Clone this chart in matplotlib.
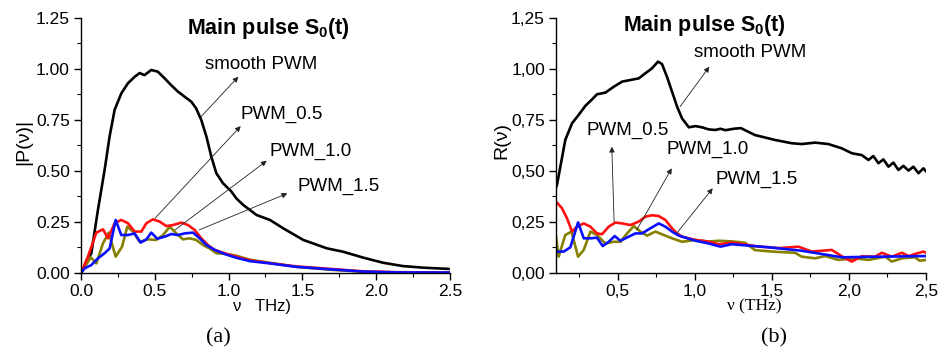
import matplotlib
matplotlib.use("Agg")
import matplotlib.pyplot as plt
from matplotlib.ticker import MultipleLocator, FuncFormatter

# ---------------- data: panel (a) |P(nu)| ----------------
a_black_x = [0, 0.07, 0.115, 0.16, 0.194, 0.228, 0.273, 0.318, 0.364, 0.397, 0.43, 0.476, 0.52,
             0.567, 0.612, 0.657, 0.702, 0.747, 0.78, 0.815, 0.85, 0.883, 0.917, 0.962, 1.018,
             1.052, 1.10, 1.19, 1.28, 1.37, 1.506, 1.665, 1.777, 1.913, 2.048, 2.18, 2.32, 2.49]
a_black_y = [0, 0.097, 0.31, 0.505, 0.67, 0.80, 0.88, 0.93, 0.962, 0.98, 0.97, 0.995, 0.987,
             0.954, 0.92, 0.889, 0.864, 0.84, 0.807, 0.75, 0.668, 0.57, 0.489, 0.44, 0.40,
             0.366, 0.333, 0.284, 0.26, 0.219, 0.162, 0.121, 0.104, 0.075, 0.05, 0.034, 0.026, 0.02]

a_red_x = [0, 0.047, 0.104, 0.149, 0.183, 0.228, 0.273, 0.318, 0.364, 0.409, 0.443, 0.488, 0.533,
           0.578, 0.623, 0.68, 0.725, 0.77, 0.815, 0.86, 0.906, 0.973, 1.05, 1.145, 1.28, 1.46,
           1.69, 1.91, 2.14, 2.5]
a_red_y = [0, 0.08, 0.198, 0.214, 0.17, 0.244, 0.26, 0.244, 0.203, 0.203, 0.244, 0.263, 0.252,
           0.23, 0.235, 0.247, 0.235, 0.211, 0.17, 0.137, 0.113, 0.097, 0.08, 0.062, 0.048, 0.032,
           0.02, 0.008, 0.004, 0.002]

a_blue_x = [0, 0.025, 0.07, 0.115, 0.16, 0.194, 0.235, 0.273, 0.318, 0.364, 0.404, 0.443, 0.476,
            0.517, 0.567, 0.612, 0.657, 0.702, 0.759, 0.804, 0.85, 0.906, 0.973, 1.05, 1.145,
            1.28, 1.46, 1.69, 1.91, 2.14, 2.5]
a_blue_y = [0, 0.023, 0.039, 0.072, 0.097, 0.12, 0.26, 0.186, 0.186, 0.194, 0.149, 0.165, 0.198,
            0.168, 0.178, 0.191, 0.186, 0.194, 0.198, 0.17, 0.137, 0.113, 0.093, 0.075, 0.058,
            0.047, 0.03, 0.018, 0.007, 0.003, 0.002]

a_olive_x = [0, 0.066, 0.104, 0.149, 0.188, 0.235, 0.278, 0.314, 0.352, 0.397, 0.454, 0.51, 0.556,
             0.601, 0.646, 0.691, 0.736, 0.78, 0.827, 0.872, 0.917, 0.984, 1.05, 1.145, 1.28, 1.46,
             1.69, 1.91, 2.14, 2.5]
a_olive_y = [0, 0.077, 0.047, 0.145, 0.198, 0.08, 0.129, 0.227, 0.203, 0.153, 0.165, 0.162, 0.186,
             0.227, 0.194, 0.165, 0.17, 0.162, 0.137, 0.12, 0.097, 0.093, 0.085, 0.065, 0.05, 0.03,
             0.016, 0.006, 0.002, 0.001]

# ---------------- data: panel (b) R(nu) ----------------
b_black_x = [0.1, 0.106, 0.128, 0.16, 0.204, 0.247, 0.29, 0.334, 0.366, 0.42, 0.475, 0.529, 0.583,
             0.637, 0.68, 0.723, 0.762, 0.788, 0.82, 0.853, 0.886, 0.918, 0.962, 1.005, 1.048,
             1.09, 1.134, 1.167, 1.2, 1.254, 1.3, 1.392, 1.522, 1.63, 1.695, 1.782, 1.868, 1.955,
             2.02, 2.085, 2.128, 2.16, 2.193, 2.225, 2.258, 2.29, 2.323, 2.355, 2.388, 2.42, 2.453,
             2.485, 2.5]
b_black_y = [0.42, 0.431, 0.521, 0.652, 0.734, 0.775, 0.819, 0.851, 0.876, 0.884, 0.913, 0.938,
             0.946, 0.954, 0.979, 1.003, 1.036, 1.024, 0.962, 0.889, 0.815, 0.758, 0.714, 0.72,
             0.714, 0.704, 0.701, 0.707, 0.70, 0.707, 0.71, 0.676, 0.652, 0.636, 0.632, 0.639,
             0.632, 0.611, 0.587, 0.578, 0.554, 0.573, 0.538, 0.557, 0.521, 0.541, 0.505, 0.525,
             0.502, 0.521, 0.489, 0.513, 0.50]

b_red_x = [0.1, 0.106, 0.139, 0.171, 0.204, 0.236, 0.28, 0.323, 0.366, 0.399, 0.442, 0.485, 0.529,
           0.583, 0.637, 0.68, 0.723, 0.767, 0.81, 0.853, 0.886, 0.918, 1.005, 1.09, 1.156, 1.24,
           1.41, 1.55, 1.674, 1.76, 1.89, 1.977, 2.02, 2.085, 2.17, 2.215, 2.28, 2.345, 2.39, 2.43,
           2.485, 2.5]
b_red_y = [0.35, 0.345, 0.317, 0.268, 0.203, 0.227, 0.243, 0.227, 0.194, 0.19, 0.227, 0.247, 0.243,
           0.235, 0.252, 0.276, 0.283, 0.279, 0.26, 0.219, 0.194, 0.178, 0.162, 0.154, 0.141,
           0.149, 0.13, 0.122, 0.129, 0.105, 0.113, 0.072, 0.056, 0.082, 0.08, 0.099, 0.08, 0.099,
           0.083, 0.093, 0.105, 0.1]

b_blue_x = [0.1, 0.106, 0.15, 0.193, 0.243, 0.28, 0.323, 0.366, 0.403, 0.442, 0.481, 0.518, 0.572,
            0.615, 0.658, 0.712, 0.767, 0.81, 0.853, 0.897, 1.005, 1.09, 1.167, 1.24, 1.479,
            1.695, 1.955, 2.215, 2.5]
b_blue_y = [0.105, 0.105, 0.105, 0.126, 0.248, 0.17, 0.17, 0.173, 0.132, 0.153, 0.181, 0.158,
            0.178, 0.194, 0.194, 0.219, 0.243, 0.227, 0.203, 0.183, 0.158, 0.145, 0.129, 0.141,
            0.126, 0.109, 0.077, 0.08, 0.083]

b_olive_x = [0.1, 0.117, 0.16, 0.2, 0.243, 0.28, 0.323, 0.366, 0.42, 0.475, 0.518, 0.561, 0.605,
             0.648, 0.691, 0.745, 0.8, 0.853, 0.918, 1.005, 1.09, 1.156, 1.24, 1.327, 1.392,
             1.522, 1.652, 1.695, 1.782, 1.847, 1.934, 2.04, 2.128, 2.237, 2.28, 2.345, 2.43,
             2.46, 2.5]
b_olive_y = [0.178, 0.08, 0.186, 0.203, 0.08, 0.113, 0.203, 0.186, 0.145, 0.153, 0.153, 0.194,
             0.23, 0.203, 0.183, 0.203, 0.186, 0.17, 0.153, 0.162, 0.154, 0.158, 0.155, 0.148,
             0.112, 0.104, 0.099, 0.08, 0.072, 0.083, 0.064, 0.072, 0.064, 0.08, 0.056, 0.072,
             0.077, 0.06, 0.064]

series_labels = ["smooth PWM", "PWM_0.5", "PWM_1.0", "PWM_1.5"]
title_text = r"Main pulse S$_\mathbf{0}$(t)"

BLACK, RED, BLUE, OLIVE = "#000000", "#ff1010", "#0a10ff", "#858000"

plt.rcParams["font.family"] = ["Liberation Sans", "DejaVu Sans"]
plt.rcParams["mathtext.fontset"] = "custom"
plt.rcParams["mathtext.rm"] = "Liberation Sans:bold"
plt.rcParams["mathtext.bf"] = "Liberation Sans:bold"

fig = plt.figure(figsize=(9.45, 3.49), dpi=100)
axA = fig.add_axes([0.0857, 0.2178, 0.3905, 0.7307])
axB = fig.add_axes([0.5884, 0.2178, 0.3912, 0.7307])

lw = 1.9
axA.plot(a_black_x, a_black_y, color=BLACK, lw=lw)
axA.plot(a_olive_x, a_olive_y, color=OLIVE, lw=lw)
axA.plot(a_red_x, a_red_y, color=RED, lw=lw)
axA.plot(a_blue_x, a_blue_y, color=BLUE, lw=lw)

axB.plot(b_black_x, b_black_y, color=BLACK, lw=lw)
axB.plot(b_olive_x, b_olive_y, color=OLIVE, lw=lw)
axB.plot(b_red_x, b_red_y, color=RED, lw=lw)
axB.plot(b_blue_x, b_blue_y, color=BLUE, lw=lw)

for ax, xmin, comma in ((axA, 0.0, False), (axB, 0.1, True)):
    ax.set_xlim(xmin, 2.5)
    ax.set_ylim(0, 1.25)
    for s in ("top", "right"):
        ax.spines[s].set_visible(False)
    for s in ("left", "bottom"):
        ax.spines[s].set_linewidth(1.0)
    ax.xaxis.set_major_locator(MultipleLocator(0.5))
    ax.xaxis.set_minor_locator(MultipleLocator(0.25))
    ax.yaxis.set_major_locator(MultipleLocator(0.25))
    ax.yaxis.set_minor_locator(MultipleLocator(0.125))
    ax.tick_params(which="major", direction="out", length=5, width=1.0, labelsize=12.5, pad=3)
    ax.tick_params(which="minor", direction="out", length=3, width=0.8)
    if comma:
        ax.xaxis.set_major_formatter(FuncFormatter(lambda v, p: f"{v:.1f}".replace(".", ",")))
        ax.yaxis.set_major_formatter(FuncFormatter(lambda v, p: f"{v:.2f}".replace(".", ",")))
    else:
        ax.xaxis.set_major_formatter(FuncFormatter(lambda v, p: f"{v:.1f}"))
        ax.yaxis.set_major_formatter(FuncFormatter(lambda v, p: f"{v:.2f}"))

arrow_kw = dict(arrowstyle="-|>", lw=0.6, color="#222222", mutation_scale=8, shrinkA=0, shrinkB=0)
ann_fs = 13.5

# panel (a) annotations: (text pos, arrow tail on curve, arrow head near text)
a_ann = [((0.84, 1.02), (0.813, 0.766), (1.066, 0.962)),
         ((1.082, 0.779), (0.501, 0.268), (1.082, 0.72)),
         ((1.274, 0.598), (0.637, 0.211), (1.258, 0.55)),
         ((1.468, 0.422), (0.80, 0.211), (1.398, 0.39))]
for lab, (tp, tail, head) in zip(series_labels, a_ann):
    axA.annotate("", xy=head, xytext=tail, arrowprops=arrow_kw)
    axA.text(tp[0], tp[1], lab, fontsize=ann_fs, ha="left", va="center")

b_ann = [((0.996, 1.081), (0.905, 0.815), (1.095, 1.011)),
         ((0.299, 0.701), (0.477, 0.251), (0.462, 0.619)),
         ((0.814, 0.608), (0.624, 0.211), (0.851, 0.513)),
         ((1.132, 0.461), (0.884, 0.195), (1.117, 0.415))]
for lab, (tp, tail, head) in zip(series_labels, b_ann):
    axB.annotate("", xy=head, xytext=tail, arrowprops=arrow_kw)
    axB.text(tp[0], tp[1], lab, fontsize=ann_fs, ha="left", va="center")

# titles
fig.text(0.2836, 0.918, title_text, fontsize=15.5, fontweight="bold", ha="center", va="center")
fig.text(0.745, 0.928, title_text, fontsize=15.5, fontweight="bold", ha="center", va="center")

# axis labels
fig.text(0.0254, 0.593, "|P(ν)|", fontsize=14, rotation=90, ha="center", va="center")
fig.text(0.531, 0.596, "R(ν)", fontsize=14, rotation=90, ha="center", va="center")
fig.text(0.277, 0.123, "ν   THz)", fontsize=12, ha="center", va="center")
fig.text(0.798, 0.123, "ν (THz)", fontsize=12.5, ha="center", va="center",
         family=["Liberation Serif", "DejaVu Serif"])

# panel letters
fig.text(0.2307, 0.033, "(a)", fontsize=16, ha="center", va="center",
         family=["Liberation Serif", "DejaVu Serif"])
fig.text(0.819, 0.033, "(b)", fontsize=16, ha="center", va="center",
         family=["Liberation Serif", "DejaVu Serif"])

fig.savefig("out.png", dpi=100)
